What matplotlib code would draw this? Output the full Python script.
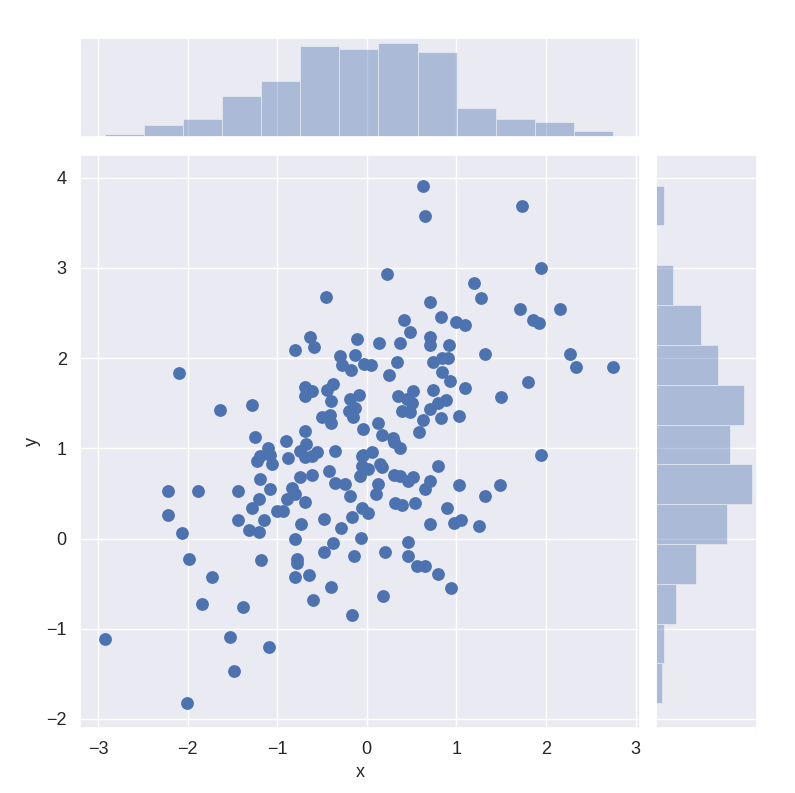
import numpy as np
import matplotlib
matplotlib.use("Agg")
import matplotlib.pyplot as plt
import seaborn as sns

x = [-0.46, -0.628, -0.584, -0.796, -0.104, -0.294, -0.126, -0.275, -0.17, -0.03,
     -2.09, -1.632, -1.279, -0.69, -0.61, -0.69, -0.375, -0.44, -0.394, -0.19,
     -0.09, -0.13, -0.2, -0.15, -0.5, -0.41, -0.40, -0.045, -0.69, -1.25,
     -0.9, -0.68,
     0.627, 0.646, 1.735, 1.948, 0.231, 1.194, 1.28, 0.709, 1.716, 2.157,
     1.854, 1.92, 0.832, 1.0, 1.093, 0.418, 0.478, 0.142, 0.373, 0.709,
     0.709, 0.92, 1.317, 2.265, 2.332, 2.75, 0.048, 0.336, 0.25, 0.735,
     0.84, 0.907, 0.84, 0.933, 0.735, 0.80, 0.884, 0.709, 1.093, 1.80,
     1.50, 0.354, 0.448, 0.522, 0.504, 0.392, 0.485, 0.627, 0.832, 1.026,
     0.586, 0.123, 0.168, 0.291,
     -1.104, -1.186, -1.074, -1.223, -1.056, -0.877, -0.74, -0.684, -0.61, -0.554,
     -0.357, -0.74, -0.61, -0.416, -0.35, -0.238, -0.182, -0.052, -0.052, -0.07,
     -0.052, -1.193, -1.085, -0.833, -0.796, -0.69, -0.888, -0.937, -1.0, -1.279,
     -1.204, -1.442, -1.881, -2.216, -2.216, -2.067, -1.442, -1.149, -1.316, -1.204,
     -0.729, -0.48, -0.164, -0.286, -0.06, -0.796, -0.38, -0.48, -0.145, -0.777,
     -0.777, -0.796, -0.647, -0.394, -0.602, -0.164, -1.175, -1.985, -1.732, -1.836,
     -1.379, -2.926, -1.528, -1.086, -1.483, -2.011,
     0.30, 0.373, 0.056, -0.037, 0.019, 0.149, 0.168, 0.795, 0.30, 0.373,
     0.466, 0.522, 0.709, 0.653, 1.026, 1.493, 1.317, 1.948, 0.131, 0.101,
     0.019, 0.317, 0.392, 0.541, 0.896, 0.709, 0.97, 1.056, 1.257, 0.205,
     0.459, 0.459, 0.56, 0.653, 0.795, 0.944, 0.187]

y = [2.68, 2.232, 2.122, 2.085, 2.21, 2.026, 2.03, 1.92, 1.87, 1.93,
     1.834, 1.42, 1.48, 1.675, 1.64, 1.58, 1.71, 1.65, 1.52, 1.55,
     1.59, 1.45, 1.41, 1.35, 1.35, 1.37, 1.28, 1.21, 1.195, 1.12,
     1.085, 1.05,
     3.91, 3.576, 3.68, 3.0, 2.93, 2.83, 2.664, 2.62, 2.54, 2.54,
     2.417, 2.39, 2.46, 2.395, 2.37, 2.417, 2.29, 2.166, 2.166, 2.23,
     2.147, 2.147, 2.044, 2.044, 1.897, 1.897, 1.92, 1.956, 1.815, 1.956,
     2.0, 2.0, 1.85, 1.74, 1.65, 1.50, 1.53, 1.44, 1.668, 1.73,
     1.565, 1.58, 1.55, 1.63, 1.50, 1.41, 1.40, 1.317, 1.336, 1.354,
     1.18, 1.28, 1.15, 1.11,
     1.0, 0.911, 0.926, 0.862, 0.825, 0.888, 0.974, 0.90, 0.918, 0.955,
     0.974, 0.677, 0.703, 0.75, 0.62, 0.60, 0.472, 0.918, 0.807, 0.695,
     0.342, 0.658, 0.554, 0.565, 0.49, 0.405, 0.435, 0.305, 0.305, 0.342,
     0.435, 0.528, 0.528, 0.528, 0.264, 0.056, 0.20, 0.20, 0.093, 0.07,
     0.156, 0.22, 0.238, 0.112, 0.007, -0.011, -0.048, -0.152, -0.197, -0.227,
     -0.27, -0.428, -0.409, -0.532, -0.68, -0.848, -0.242, -0.223, -0.428, -0.725,
     -0.762, -1.115, -1.097, -1.2, -1.472, -1.825,
     1.074, 1.0, 0.955, 0.926, 0.77, 0.825, 0.788, 0.807, 0.703, 0.695,
     0.64, 0.677, 0.64, 0.554, 0.595, 0.595, 0.472, 0.926, 0.602, 0.49,
     0.286, 0.39, 0.368, 0.39, 0.342, 0.156, 0.167, 0.204, 0.138, -0.152,
     -0.041, -0.197, -0.30, -0.30, -0.39, -0.55, -0.636]

x = np.array(x)
y = np.array(y)

sns.set_theme(style="darkgrid")
plt.rcParams['font.family'] = ['Liberation Sans', 'DejaVu Sans']

W, H = 795, 793
fig = plt.figure(figsize=(W / 100, H / 100), dpi=100)

def rect(l, t, r, b):
    return [l / W, 1 - b / H, (r - l) / W, (b - t) / H]

ax = fig.add_axes(rect(80, 155, 640, 728))
axx = fig.add_axes(rect(80, 38, 640, 137), sharex=ax)
axy = fig.add_axes(rect(656, 155, 757, 728), sharey=ax)

blue = sns.color_palette()[0]
ax.scatter(x, y, s=85, color=blue, linewidths=0)

nb = 13
axx.hist(x, bins=nb, color=blue, alpha=0.4, edgecolor="white", linewidth=0.8)
axy.hist(y, bins=nb, color=blue, alpha=0.4, edgecolor="white", linewidth=0.8,
         orientation="horizontal")

ax.set_xlim(-3.2, 3.05)
ax.set_ylim(-2.1, 4.25)
ax.set_xticks([-3, -2, -1, 0, 1, 2, 3])
ax.set_yticks([-2, -1, 0, 1, 2, 3, 4])
ax.set_xlabel("x", fontsize=13)
ax.set_ylabel("y", fontsize=13)
ax.tick_params(labelsize=13)

for a in (axx, axy):
    a.tick_params(labelbottom=False, labelleft=False, length=0)
    a.set_xlabel("")
    a.set_ylabel("")
axx.yaxis.grid(False)
axy.xaxis.grid(False)
axx.set_yticks([])
axy.set_xticks([])

fig.savefig("out.png", dpi=100)
